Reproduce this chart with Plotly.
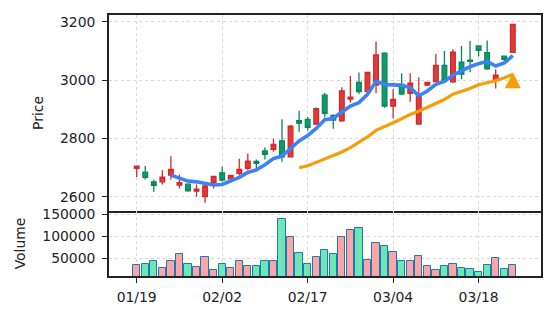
import plotly.graph_objects as go
import pandas as pd

# ---- data ----
tick_labels = ["01/19", "02/02", "02/17", "03/04", "03/18"]

opens = [2697, 2684, 2651, 2651, 2674, 2640, 2643, 2619, 2600, 2649,
         2682, 2661, 2680, 2697, 2721, 2757, 2762, 2791, 2737, 2861,
         2865, 2849, 2948, 2879, 2860, 2935, 2992, 2960, 2983, 3092,
         2911, 2985, 2954, 2849, 2983, 2995, 3050, 2994, 3061, 3068,
         3117, 3094, 3000, 3082, 3095]
highs = [2706, 2705, 2659, 2691, 2739, 2676, 2646, 2642, 2646, 2672,
         2703, 2675, 2730, 2748, 2728, 2769, 2798, 2866, 2846, 2895,
         2873, 2906, 2956, 2883, 2975, 3014, 3026, 3028, 3132, 3095,
         2969, 3023, 3023, 3010, 2993, 3089, 3100, 3106, 3117, 3134,
         3117, 3136, 3037, 3082, 3192]
lows = [2668, 2659, 2617, 2642, 2659, 2628, 2617, 2600, 2579, 2628,
        2651, 2659, 2674, 2691, 2697, 2728, 2754, 2720, 2737, 2823,
        2827, 2846, 2872, 2833, 2857, 2922, 2952, 2958, 2955, 2905,
        2869, 2951, 2926, 2848, 2979, 2995, 2999, 2990, 3003, 3027,
        3081, 3035, 2971, 3063, 3095]
closes = [2705, 2666, 2639, 2667, 2694, 2648, 2620, 2626, 2637, 2670,
          2657, 2673, 2694, 2722, 2714, 2745, 2779, 2737, 2842, 2852,
          2838, 2902, 2886, 2863, 2963, 2941, 2960, 3026, 3086, 2911,
          2934, 2952, 2989, 2945, 2992, 3050, 2999, 3096, 3020, 3064,
          3102, 3038, 3017, 3071, 3191]
volumes = [34100, 38600, 43200, 27300, 45400, 59100, 36350, 30200, 54500, 22700,
           38600, 27300, 45400, 31800, 31800, 43200, 45400, 140900, 100000, 63600,
           38600, 52300, 68200, 59100, 100000, 115900, 120450, 47700, 84100, 77300,
           65900, 45400, 45400, 56800, 31800, 24100, 31800, 38600, 29500, 25000,
           20400, 34100, 50000, 25000, 34100]
signal_index = [44]
signal_price = [2999]

# ---- derived ----
n = len(closes)
idx = list(range(n))
tick_pos = idx[::10]
ma5 = pd.Series(closes).rolling(5).mean()
ma20 = pd.Series(closes).rolling(20).mean()

RED_LINE, RED_FILL = "#d42a2a", "#e03a3a"
GREEN_LINE, GREEN_FILL = "#07875d", "#139a6c"
vol_colors = ["#fca5a5" if c >= o else "#6ee7b7" for o, c in zip(opens, closes)]

fig = go.Figure()
fig.add_trace(go.Candlestick(
    x=idx, open=opens, high=highs, low=lows, close=closes,
    increasing=dict(line=dict(color=RED_LINE, width=1.3), fillcolor=RED_FILL),
    decreasing=dict(line=dict(color=GREEN_LINE, width=1.3), fillcolor=GREEN_FILL),
    whiskerwidth=0, xaxis="x", yaxis="y", showlegend=False, hoverinfo="skip"))
fig.add_trace(go.Scatter(x=idx, y=ma5, mode="lines",
                         line=dict(color="#3b82f6", width=3.6), xaxis="x", yaxis="y"))
fig.add_trace(go.Scatter(x=idx, y=ma20, mode="lines",
                         line=dict(color="#f59e0b", width=3.2), xaxis="x", yaxis="y"))
fig.add_trace(go.Scatter(x=signal_index, y=signal_price, mode="markers",
                         marker=dict(symbol="arrow-down", angle=180, size=16, standoff=8,
                                     color="#f59e0b", line=dict(width=0)),
                         xaxis="x", yaxis="y"))
fig.add_trace(go.Bar(x=idx, y=volumes, width=0.85,
                     marker=dict(color=vol_colors, line=dict(color="#1f77b4", width=1)),
                     xaxis="x2", yaxis="y2"))

FONT = dict(family="DejaVu Sans", size=13.9, color="#222222")
common = dict(showline=True, linecolor="#222222", linewidth=1.7,
              showgrid=True, gridcolor="#d8d8d8", griddash="dot", gridwidth=1,
              zeroline=False, automargin=False, tickfont=FONT,
              tickcolor="#222222", tickwidth=1.2)

fig.update_layout(
    template="none",
    width=556, height=322,
    margin=dict(l=109, r=15, t=15, b=46),
    paper_bgcolor="white", plot_bgcolor="white",
    showlegend=False, boxgap=0.22, bargap=0,
    font=FONT,
    xaxis=dict(domain=[0, 1], anchor="y", range=[-3.24, 47.3], mirror=True,
               tickvals=tick_pos, showticklabels=False, ticks="",
               rangeslider=dict(visible=False), **common),
    xaxis2=dict(domain=[0, 1], anchor="y2", matches="x", range=[-3.24, 47.3],
                mirror=False, tickvals=tick_pos, ticktext=tick_labels,
                ticks="outside", ticklen=5, ticklabelstandoff=2, **common),
    yaxis=dict(domain=[0.249, 1], anchor="x", range=[2551, 3223], mirror=True,
               tickvals=[2600, 2800, 3000, 3200], ticks="outside", ticklen=5,
               ticklabelstandoff=4,
               title=dict(text="Price", font=FONT, standoff=13),
               **common),
    yaxis2=dict(domain=[0, 0.249], anchor="x2", range=[10200, 158000], mirror=True,
                tickvals=[50000, 100000, 150000], tickformat="d",
                ticks="outside", ticklen=5, ticklabelstandoff=4,
                title=dict(text="Volume", font=FONT, standoff=13),
                **common),
)

fig.write_html("out.html")
